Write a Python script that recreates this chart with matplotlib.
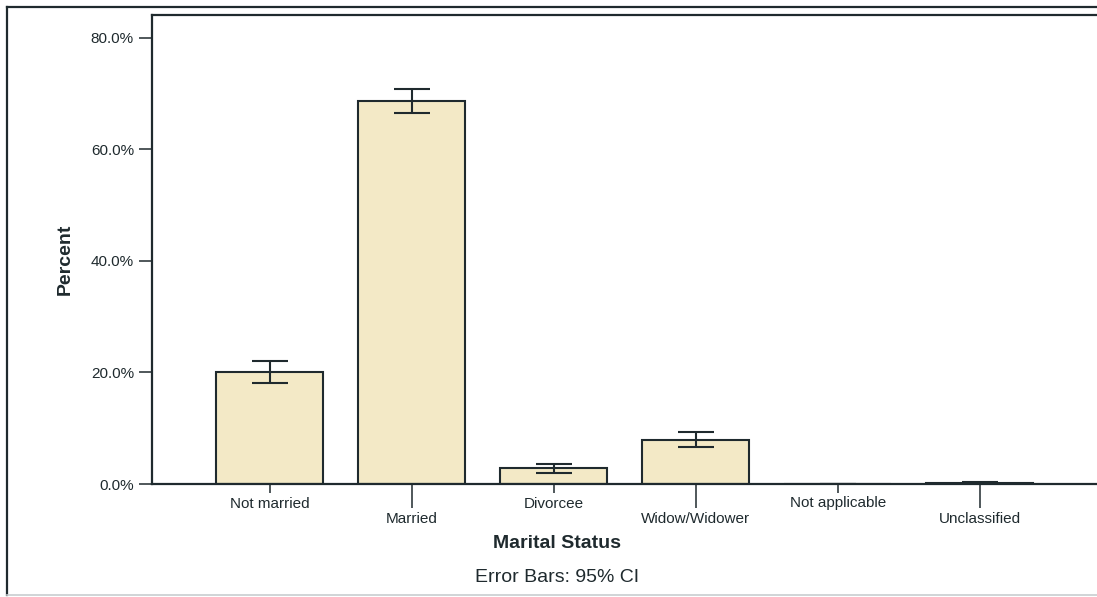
import matplotlib
matplotlib.use("Agg")
import matplotlib.pyplot as plt
from matplotlib.patches import Rectangle
from matplotlib.lines import Line2D
from matplotlib.ticker import FuncFormatter
import numpy as np

# Marital status distribution with 95% confidence intervals
categories = ["Not married", "Married", "Divorcee", "Widow/Widower",
              "Not applicable", "Unclassified"]
percent = [20.0, 68.7, 2.8, 7.9, 0.0, 0.1]
ci_low = [18.2, 66.5, 2.0, 6.6, 0.0, 0.0]
ci_high = [22.1, 70.9, 3.5, 9.3, 0.0, 0.3]
y_ticks = [0, 20, 40, 60, 80]

plt.rcParams['font.family'] = ['Liberation Sans', 'DejaVu Sans']
ink = '#1f2a2e'
bar_fill = '#f3e9c6'

W, H = 1097, 597
fig = plt.figure(figsize=(W / 100, H / 100), dpi=100)
fig.patch.set_facecolor('white')

# outer chart frame (runs past the right edge)
fig.add_artist(Line2D([7 / W, 1.02], [1 - 7 / H, 1 - 7 / H], transform=fig.transFigure,
                      color=ink, lw=1.6))
fig.add_artist(Line2D([7 / W, 7 / W], [1 - 7 / H, 1 - 595 / H], transform=fig.transFigure,
                      color=ink, lw=1.6))
fig.add_artist(Line2D([7 / W, 1.02], [1 - 595 / H, 1 - 595 / H], transform=fig.transFigure,
                      color='#c8cdd0', lw=1.2))

left, right = 152 / W, 1.0
bottom, top = 1 - 484 / H, 1 - 15 / H
ax = fig.add_axes([left, bottom, right - left, top - bottom])
ax.set_facecolor('white')

x = np.arange(len(categories))
err = [np.array(percent) - np.array(ci_low), np.array(ci_high) - np.array(percent)]
ax.bar(x, percent, width=0.755, color=bar_fill, edgecolor=ink, linewidth=1.5, zorder=2)
ax.errorbar(x, percent, yerr=err, fmt='none', ecolor=ink, elinewidth=1.5,
            capsize=13, capthick=1.5, zorder=3)

ax.set_xlim(-0.83, -0.83 + (W - 152) / 142)
ax.set_ylim(0, 84.1)

ax.set_yticks(y_ticks)
ax.yaxis.set_major_formatter(FuncFormatter(lambda v, _: f"{v:.1f}%"))
ax.tick_params(axis='y', length=9.5, width=1.1, color=ink, pad=3.5,
               labelsize=11, labelcolor=ink)

# staggered category labels: short ticks for even positions, long for odd
ax.set_xticks(x[0::2], [categories[i] for i in range(0, len(categories), 2)])
ax.set_xticks(x[1::2], [categories[i] for i in range(1, len(categories), 2)], minor=True)
ax.tick_params(axis='x', which='major', length=6.5, width=1.1, color=ink, pad=2.5,
               labelsize=11, labelcolor=ink)
ax.tick_params(axis='x', which='minor', length=17.5, width=1.1, color=ink, pad=3,
               labelsize=11, labelcolor=ink)

for side in ('left', 'bottom', 'top'):
    ax.spines[side].set_color(ink)
    ax.spines[side].set_linewidth(1.6)
ax.spines['right'].set_visible(False)

fig.text(65 / W, 1 - 259 / H, "Percent", rotation=90, ha='center', va='center',
         fontsize=14, fontweight='bold', color=ink)
fig.text(557 / W, 1 - 543 / H, "Marital Status", ha='center', va='center',
         fontsize=14, fontweight='bold', color=ink)
fig.text(557 / W, 1 - 577 / H, "Error Bars: 95% CI", ha='center', va='center',
         fontsize=14, color=ink)

fig.savefig("out.png", dpi=100)
